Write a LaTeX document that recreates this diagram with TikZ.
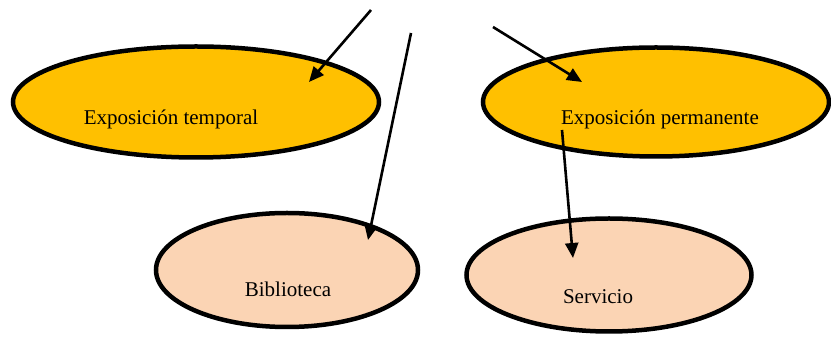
\documentclass[tikz,border=0pt]{standalone}
\usepackage{fontspec}
\setmainfont{Liberation Serif}
\usetikzlibrary{arrows.meta,shapes.geometric}
\definecolor{gold}{HTML}{FFC000}
\definecolor{peach}{HTML}{FBD4B4}
\begin{document}
\begin{tikzpicture}[x=1pt,y=1pt,
  oval/.style={ellipse,draw=black,line width=4.5pt,inner sep=0pt},
  conn/.style={line width=2.6pt,-{Triangle[length=15pt,width=13pt]}},
  lbl/.style={font=\fontsize{21}{24}\selectfont,inner sep=0pt}]
\useasboundingbox (0,0) rectangle (831,337);
\node[oval,fill=gold,minimum width=366,minimum height=111] (et) at (196,235) {};
\node[oval,fill=gold,minimum width=346,minimum height=109] (ep) at (656,235) {};
\node[oval,fill=peach,minimum width=262,minimum height=114] (bi) at (287,67) {};
\node[oval,fill=peach,minimum width=285,minimum height=113] (se) at (609,62) {};
\node[lbl] (etl) at (171,218) {Exposición temporal};
\node[lbl] (epl) at (660,218) {Exposición permanente};
\node[lbl] (bil) at (288,48) {Biblioteca};
\node[lbl] (sel) at (598,40) {Servicio};
\coordinate (s1) at (371,327);
\coordinate (e1) at (309,255);
\coordinate (s2) at (411,304);
\coordinate (e2) at (368,97);
\coordinate (s3) at (493,310);
\coordinate (e3) at (582,255);
\coordinate (s4) at (562,207);
\coordinate (e4) at (573,79);
\draw[conn] (s1) -- (e1);
\draw[conn] (s2) -- (e2);
\draw[conn] (s3) -- (e3);
\draw[conn] (s4) -- (e4);
\end{tikzpicture}
\end{document}
